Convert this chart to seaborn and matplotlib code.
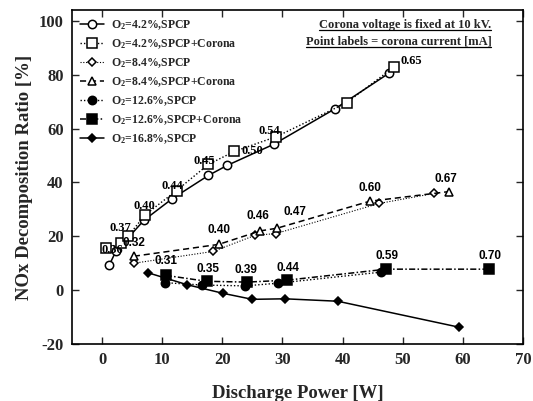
import matplotlib
matplotlib.use("Agg")
import matplotlib.pyplot as plt
import seaborn as sns
import pandas as pd
from matplotlib.lines import Line2D

# ---- data ----
labels = ["O$_2$=4.2%,SPCP", "O$_2$=4.2%,SPCP+Corona", "O$_2$=8.4%,SPCP",
          "O$_2$=8.4%,SPCP+Corona", "O$_2$=12.6%,SPCP", "O$_2$=12.6%,SPCP+Corona",
          "O$_2$=16.8%,SPCP"]

x_42 = [1.2, 2.3, 7.0, 11.7, 17.7, 20.8, 28.6, 38.8, 47.7]
y_42 = [9.3, 14.4, 26.0, 34.0, 42.6, 46.3, 54.2, 67.4, 80.5]

x_42c = [0.7, 3.1, 4.3, 7.2, 12.4, 17.7, 22.0, 29.0, 40.7, 48.6]
y_42c = [15.6, 17.4, 20.0, 28.0, 37.0, 46.7, 51.5, 57.0, 69.6, 82.9]
cur_42c = ["0.36", None, "0.37", "0.40", "0.44", "0.45", "0.50", "0.54", None, "0.65"]

x_84 = [5.3, 18.5, 25.5, 28.9, 46.1, 55.2]
y_84 = [10.0, 14.4, 20.4, 21.0, 32.2, 35.9]

x_84c = [5.3, 19.4, 26.3, 29.1, 44.5, 57.7]
y_84c = [12.6, 17.0, 22.0, 23.0, 33.0, 36.6]
cur_84c = ["0.32", "0.40", "0.46", "0.47", "0.60", "0.67"]

x_126 = [10.4, 16.7, 23.8, 29.3, 46.4]
y_126 = [2.8, 1.9, 1.6, 2.6, 6.7]

x_126c = [10.6, 17.4, 24.1, 30.7, 47.3, 64.3]
y_126c = [5.5, 3.3, 3.0, 3.7, 7.8, 7.8]
cur_126c = ["0.31", "0.35", "0.39", "0.44", "0.59", "0.70"]

x_168 = [7.6, 14.2, 20.2, 25.0, 30.4, 39.2, 59.3]
y_168 = [6.5, 2.0, -1.2, -3.4, -3.2, -4.1, -13.7]

x_ticks = [0, 10, 20, 30, 40, 50, 60, 70]
y_ticks = [-20, 0, 20, 40, 60, 80, 100]

# ---- style ----
sns.set_theme(style="ticks")
plt.rcParams["font.family"] = ["Liberation Serif", "DejaVu Serif"]
plt.rcParams["axes.unicode_minus"] = False
plt.rcParams["mathtext.fontset"] = "custom"
plt.rcParams["mathtext.rm"] = "Liberation Serif:bold"
plt.rcParams["mathtext.it"] = "Liberation Serif:bold"
plt.rcParams["mathtext.bf"] = "Liberation Serif:bold"

fig = plt.figure(figsize=(5.33, 4.01), dpi=100)
ax = fig.add_axes([0.135, 0.142, 0.846, 0.833])

series = [
    (x_42, y_42, labels[0], dict(marker="o", mfc="white", mec="black", ms=6, ls="-", lw=1.1)),
    (x_42c, y_42c, labels[1], dict(marker="s", mfc="white", mec="black", ms=6.5, ls=(0, (1, 1.5)), lw=1.0)),
    (x_84, y_84, labels[2], dict(marker="D", mfc="white", mec="black", ms=4, ls=(0, (1, 1.5)), lw=0.8)),
    (x_84c, y_84c, labels[3], dict(marker="^", mfc="white", mec="black", ms=6, ls=(0, (4, 2.5)), lw=1.1)),
    (x_126, y_126, labels[4], dict(marker="o", mfc="black", mec="black", ms=6, ls=(0, (1, 1.5)), lw=1.0)),
    (x_126c, y_126c, labels[5], dict(marker="s", mfc="black", mec="black", ms=6.5, ls=(0, (4, 1.5, 1, 1.5)), lw=1.1)),
    (x_168, y_168, labels[6], dict(marker="D", mfc="black", mec="black", ms=4.5, ls="-", lw=1.1)),
]

for xs, ys, lab, st in series:
    df = pd.DataFrame({"x": xs, "y": ys})
    sns.lineplot(data=df, x="x", y="y", ax=ax, sort=False, color="black",
                 marker=st["marker"], markerfacecolor=st["mfc"], markeredgecolor=st["mec"],
                 markersize=st["ms"], markeredgewidth=1.1, linestyle=st["ls"],
                 linewidth=st["lw"], label=lab)

# point labels (corona current)
def put_labels(xs, ys, labs, offsets, family, size):
    for xv, yv, lb, off in zip(xs, ys, labs, offsets):
        if lb is None:
            continue
        ax.annotate(lb, (xv, yv), xytext=off, textcoords="offset pixels",
                    ha="center", va="center", fontsize=size, fontweight="bold",
                    family=family, color="black")

put_labels(x_42c, y_42c, cur_42c,
           [(6, -2), None, (-7, 8), (-1, 9), (-4, 5), (-4, 3), (18, 0), (-7, 6), None, (17, 6)],
           ["Liberation Serif"], 9)
put_labels(x_84c, y_84c, cur_84c,
           [(0, 13), (0, 14), (-2, 15), (18, 16), (0, 13), (-3, 13)],
           ["Liberation Sans"], 8.5)
put_labels(x_126c, y_126c, cur_126c,
           [(0, 14), (1, 12), (-1, 12), (1, 12), (1, 13), (1, 13)],
           ["Liberation Sans"], 8.5)

ax.set_xlim(-5, 70)
ax.set_ylim(-20, 104)
ax.set_xticks(x_ticks)
ax.set_yticks(y_ticks)
ax.tick_params(direction="in", length=5, width=1, top=True, right=True,
               labelsize=12, pad=6)
for lbl in ax.get_xticklabels() + ax.get_yticklabels():
    lbl.set_fontweight("bold")
for sp in ax.spines.values():
    sp.set_linewidth(1.2)
    sp.set_color("black")

ax.set_xlabel("Discharge Power [W]", fontsize=13.5, fontweight="bold", labelpad=12)
ax.set_ylabel("NOx Decomposition Ratio [%]", fontsize=13.5, fontweight="bold", labelpad=4)

leg = ax.legend(loc="upper left", frameon=False, handlelength=2.0,
                handletextpad=0.6, labelspacing=0.45, borderaxespad=0.3,
                prop={"family": "Liberation Serif", "weight": "bold", "size": 8.5})

t1 = ax.text(0.93, 0.955, "Corona voltage is fixed at 10 kV.", transform=ax.transAxes,
             ha="right", va="center", fontsize=9, fontweight="bold")
t2 = ax.text(0.93, 0.905, "Point labels = corona current [mA]", transform=ax.transAxes,
             ha="right", va="center", fontsize=9, fontweight="bold")

fig.canvas.draw()
renderer = fig.canvas.get_renderer()
inv = fig.transFigure.inverted()
for t in (t1, t2):
    bb = t.get_window_extent(renderer)
    (x0, y0), (x1, _) = inv.transform([(bb.x0, bb.y0 + 1), (bb.x1, bb.y0 + 1)])
    fig.add_artist(Line2D([x0, x1], [y0, y0], transform=fig.transFigure,
                          color="black", lw=0.9))

fig.savefig("out.png", dpi=100)
